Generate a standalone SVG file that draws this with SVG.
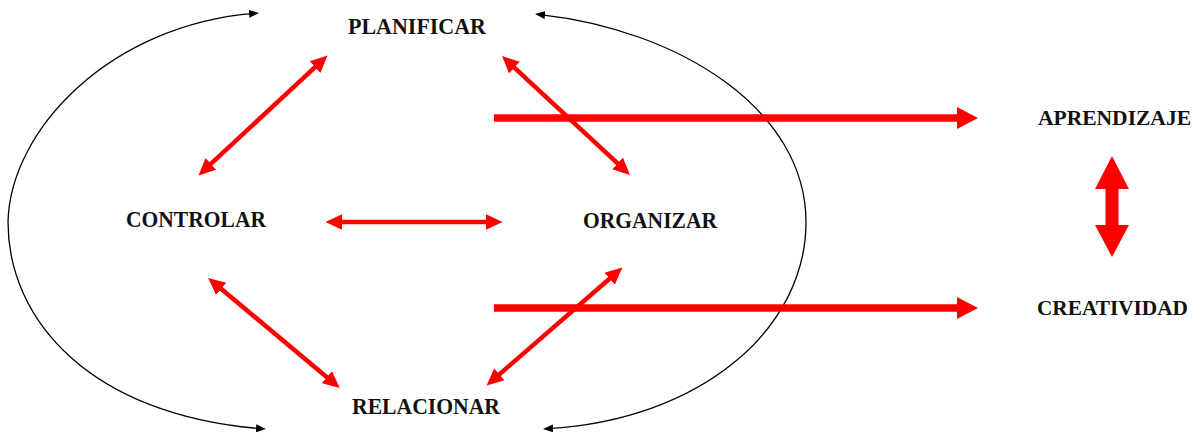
<svg xmlns="http://www.w3.org/2000/svg" width="1195" height="436" viewBox="0 0 1195 436">
<style>
  .lbl{font-family:"Liberation Serif","Times New Roman",serif;font-weight:bold;font-size:23.5px;fill:#111;}
  .lbl.sm{font-size:21.5px;}
  .thin{fill:none;stroke:#ff0000;stroke-width:4.5;}
  .thick{fill:none;stroke:#ff0000;stroke-width:7.5;}
  .loop{fill:none;stroke:#000;stroke-width:1.3;}
</style>
<defs>
  <marker id="rh" markerUnits="userSpaceOnUse" markerWidth="18" markerHeight="16" refX="6" refY="7.5" orient="auto-start-reverse" viewBox="0 0 17 15">
    <path d="M0,0 L16,7.5 L0,15 Z" fill="#ff0000"/>
  </marker>
  <marker id="rb" markerUnits="userSpaceOnUse" markerWidth="22" markerHeight="23" refX="1" refY="11" orient="auto" viewBox="0 0 22 22">
    <path d="M0,0 L21,11 L0,22 Z" fill="#ff0000"/>
  </marker>
  <marker id="kh" markerUnits="userSpaceOnUse" markerWidth="11" markerHeight="9" refX="5" refY="4" orient="auto-start-reverse" viewBox="0 0 11 8">
    <path d="M0,0 L10,4 L0,8 Z" fill="#000"/>
  </marker>
</defs>
<g id="connectors">
  <path class="loop" d="M254,13.4 C110,25 10,130 8,222 C8,320 90,415 261,428.7" marker-start="url(#kh)" marker-end="url(#kh)"/>
  <path class="loop" d="M540,14.6 C680,30 806,110 806,222 C806,330 700,420 548,428.7" marker-start="url(#kh)" marker-end="url(#kh)"/>
  <line class="thin" x1="319.7" y1="62.8" x2="206.3" y2="168.2" marker-start="url(#rh)" marker-end="url(#rh)"/>
  <line class="thin" x1="509.8" y1="63.3" x2="622.2" y2="167.7" marker-start="url(#rh)" marker-end="url(#rh)"/>
  <line class="thin" x1="336" y1="222" x2="492" y2="222" marker-start="url(#rh)" marker-end="url(#rh)"/>
  <line class="thin" x1="216.3" y1="284.8" x2="331.7" y2="381.2" marker-start="url(#rh)" marker-end="url(#rh)"/>
  <line class="thin" x1="614.4" y1="274.5" x2="494.6" y2="378.5" marker-start="url(#rh)" marker-end="url(#rh)"/>
  <line class="thick" x1="494" y1="118" x2="958" y2="118" marker-end="url(#rb)"/>
  <line class="thick" x1="494" y1="308" x2="958" y2="308" marker-end="url(#rb)"/>
  <polygon fill="#ff0000" points="1112,156 1095,189 1105.5,189 1105.5,225 1095,225 1112,257 1129,225 1118.5,225 1118.5,189 1129,189"/>
</g>
<g id="planificar"><text class="lbl" x="348" y="34" textLength="138" lengthAdjust="spacingAndGlyphs">PLANIFICAR</text></g>
<g id="controlar"><text class="lbl" x="126" y="227" textLength="140" lengthAdjust="spacingAndGlyphs">CONTROLAR</text></g>
<g id="organizar"><text class="lbl" x="583" y="228" textLength="134" lengthAdjust="spacingAndGlyphs">ORGANIZAR</text></g>
<g id="relacionar"><text class="lbl" x="352" y="414" textLength="148" lengthAdjust="spacingAndGlyphs">RELACIONAR</text></g>
<g id="aprendizaje"><text class="lbl sm" x="1038" y="125" textLength="153" lengthAdjust="spacingAndGlyphs">APRENDIZAJE</text></g>
<g id="creatividad"><text class="lbl sm" x="1037" y="315" textLength="151" lengthAdjust="spacingAndGlyphs">CREATIVIDAD</text></g>
</svg>
